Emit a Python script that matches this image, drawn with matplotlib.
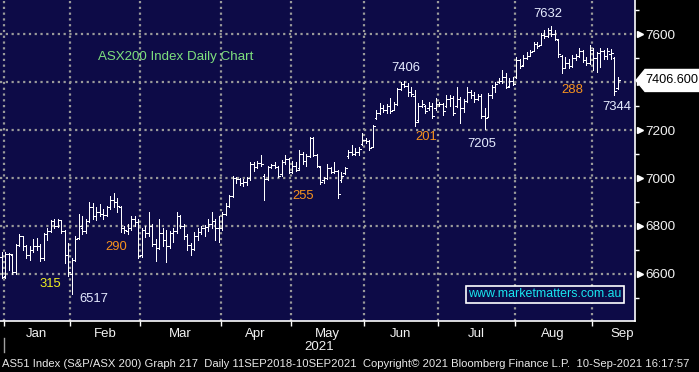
import numpy as np
import matplotlib
matplotlib.use("Agg")
import matplotlib.pyplot as plt
from matplotlib import font_manager
from matplotlib.patches import Polygon
from matplotlib.lines import Line2D

# --- daily OHLC, 31-Dec-2020 .. 10-Sep-2021 (trading-day index) ---
opens = [6670, 6590, 6685, 6680, 6607, 6720, 6757, 6716, 6680, 6700,
         6715, 6716, 6665, 6766, 6780, 6822, 6800, 6824, 6780, 6680,
         6600, 6660, 6750, 6790, 6780, 6820, 6880, 6840, 6860, 6850,
         6845, 6880, 6910, 6900, 6880, 6790, 6780, 6790, 6830, 6815,
         6680, 6785, 6770, 6800, 6725, 6710, 6770, 6740, 6715, 6770,
         6780, 6840, 6800, 6760, 6720, 6705, 6760, 6775, 6790, 6795,
         6810, 6820, 6790, 6790, 6850, 6885, 6925, 7000, 6995, 6980,
         6985, 7000, 7060, 7045, 7062, 7010, 6995, 7045, 7055, 7045,
         7015, 7065, 7080, 7025, 7050, 7040, 7100, 7070, 7090, 7165,
         7095, 7045, 6990, 7000, 7040, 7025, 7030, 6990, 7020, 7090,
         7110, 7100, 7110, 7140, 7160, 7155, 7130, 7250, 7270, 7290,
         7285, 7300, 7285, 7310, 7370, 7390, 7385, 7360, 7340, 7240,
         7300, 7300, 7290, 7300, 7290, 7310, 7310, 7300, 7330, 7335,
         7300, 7330, 7290, 7320, 7360, 7345, 7330, 7340, 7260, 7255,
         7345, 7380, 7400, 7405, 7420, 7385, 7405, 7420, 7490, 7470,
         7500, 7510, 7530, 7560, 7555, 7595, 7590, 7615, 7600, 7575,
         7510, 7460, 7480, 7465, 7500, 7510, 7530, 7490, 7480, 7534,
         7500, 7520, 7530, 7510, 7515, 7500, 7375]
highs = [6690, 6690, 6688, 6684, 6725, 6765, 6760, 6720, 6715, 6745,
         6750, 6725, 6770, 6790, 6825, 6830, 6828, 6826, 6782, 6728,
         6665, 6760, 6852, 6840, 6830, 6900, 6895, 6880, 6890, 6870,
         6885, 6925, 6936, 6915, 6885, 6800, 6810, 6840, 6840, 6830,
         6790, 6800, 6858, 6810, 6745, 6830, 6790, 6785, 6780, 6790,
         6858, 6845, 6810, 6765, 6730, 6775, 6790, 6800, 6805, 6830,
         6860, 6830, 6840, 6860, 6895, 6930, 7010, 7005, 7000, 6995,
         7005, 7068, 7065, 7070, 7096, 7015, 7050, 7060, 7068, 7048,
         7075, 7096, 7082, 7070, 7068, 7117, 7110, 7100, 7172, 7170,
         7100, 7048, 7005, 7060, 7047, 7068, 7035, 7027, 7047, 7117,
         7138, 7124, 7130, 7186, 7165, 7158, 7221, 7283, 7311, 7304,
         7310, 7332, 7318, 7375, 7401, 7406, 7395, 7380, 7366, 7311,
         7325, 7305, 7318, 7311, 7332, 7318, 7311, 7346, 7346, 7340,
         7381, 7339, 7330, 7381, 7368, 7360, 7352, 7350, 7290, 7353,
         7388, 7401, 7415, 7450, 7436, 7415, 7422, 7505, 7498, 7512,
         7526, 7533, 7568, 7568, 7603, 7617, 7625, 7632, 7617, 7578,
         7513, 7505, 7498, 7512, 7519, 7540, 7533, 7505, 7554, 7540,
         7526, 7540, 7533, 7540, 7536, 7505, 7422]
lows = [6585, 6585, 6615, 6600, 6600, 6715, 6700, 6665, 6660, 6690,
        6700, 6655, 6660, 6740, 6775, 6790, 6795, 6770, 6645, 6590,
        6517, 6655, 6745, 6765, 6770, 6815, 6830, 6825, 6840, 6830,
        6840, 6870, 6880, 6860, 6775, 6770, 6765, 6785, 6800, 6665,
        6670, 6755, 6760, 6715, 6655, 6705, 6715, 6650, 6710, 6735,
        6770, 6790, 6745, 6700, 6680, 6700, 6740, 6765, 6760, 6780,
        6790, 6740, 6735, 6785, 6845, 6880, 6920, 6980, 6970, 6965,
        6970, 6992, 7030, 7040, 7050, 6908, 6990, 7040, 7040, 7005,
        7010, 7060, 7020, 7020, 7030, 7035, 7060, 7050, 7088, 7090,
        7047, 6975, 6978, 6995, 7020, 7020, 6917, 6985, 7015, 7085,
        7095, 7095, 7095, 7137, 7148, 7117, 7128, 7248, 7268, 7276,
        7270, 7270, 7283, 7305, 7365, 7380, 7340, 7340, 7215, 7235,
        7297, 7270, 7285, 7249, 7285, 7300, 7262, 7297, 7300, 7262,
        7295, 7228, 7276, 7315, 7335, 7318, 7325, 7249, 7205, 7255,
        7332, 7360, 7394, 7394, 7374, 7380, 7388, 7415, 7457, 7468,
        7498, 7508, 7528, 7540, 7553, 7582, 7586, 7590, 7575, 7505,
        7436, 7457, 7457, 7462, 7491, 7505, 7485, 7470, 7475, 7450,
        7443, 7464, 7498, 7498, 7498, 7344, 7370]
closes = [6588, 6685, 6682, 6607, 6719, 6757, 6716, 6680, 6700, 6715,
          6716, 6665, 6766, 6780, 6822, 6800, 6824, 6780, 6680, 6607,
          6660, 6744, 6800, 6780, 6820, 6880, 6840, 6860, 6850, 6845,
          6880, 6910, 6900, 6885, 6790, 6785, 6790, 6830, 6815, 6673,
          6785, 6770, 6800, 6725, 6710, 6770, 6740, 6715, 6770, 6780,
          6840, 6800, 6760, 6720, 6705, 6760, 6775, 6790, 6795, 6810,
          6820, 6790, 6790, 6850, 6885, 6925, 7000, 6995, 6980, 6985,
          7000, 7060, 7045, 7062, 7060, 6995, 7045, 7055, 7045, 7010,
          7065, 7080, 7025, 7050, 7035, 7100, 7070, 7090, 7165, 7095,
          7050, 6985, 6998, 7040, 7025, 7030, 6935, 7010, 7040, 7110,
          7100, 7110, 7120, 7160, 7155, 7125, 7215, 7270, 7290, 7285,
          7300, 7280, 7310, 7370, 7390, 7385, 7360, 7350, 7235, 7300,
          7310, 7280, 7300, 7260, 7310, 7310, 7280, 7330, 7335, 7270,
          7330, 7290, 7320, 7360, 7345, 7330, 7340, 7260, 7250, 7345,
          7380, 7390, 7405, 7420, 7380, 7405, 7393, 7490, 7465, 7500,
          7510, 7525, 7560, 7550, 7595, 7590, 7615, 7600, 7580, 7515,
          7460, 7480, 7465, 7500, 7510, 7530, 7490, 7480, 7534, 7500,
          7520, 7530, 7510, 7530, 7520, 7362, 7406.6]

months = ["Jan", "Feb", "Mar", "Apr", "May", "Jun", "Jul", "Aug", "Sep"]
month_first = [1, 20, 40, 63, 83, 104, 125, 147, 169]
y_ticks = [6600, 6800, 7000, 7200, 7400, 7600]
y_labels = ["6600", "6800", "7000", "7200", "", "7600"]  # 7400 sits under the price box
last_price = 7406.6

# notes drawn on the chart: (text, x index, price, colour)
notes = [("7632", 155.9, 7683, "#e6ecff"), ("7406", 115.4, 7458, "#e6ecff"),
         ("7205", 137.2, 7142, "#e6ecff"), ("7344", 175.8, 7296, "#e6ecff"),
         ("6517", 26.2, 6496, "#e6ecff"), ("315", 13.8, 6558, "#f0f020"),
         ("290", 32.6, 6712, "#f7931e"), ("255", 86.1, 6925, "#f7931e"),
         ("201", 121.4, 7171, "#f7931e"), ("288", 163.1, 7367, "#f7931e")]

names = {f.name for f in font_manager.fontManager.ttflist}
if "Liberation Sans Narrow" in names:
    title_font, title_size = "Liberation Sans Narrow", 11.2
else:
    title_font, title_size = "Liberation Sans", 9.6
plt.rcParams["font.family"] = ["Liberation Sans", "DejaVu Sans"]

W, H = 699, 372
fig = plt.figure(figsize=(W / 100, H / 100), dpi=100)
fig.patch.set_facecolor("black")
ax = fig.add_axes([0, 51 / H, 635 / W, 321 / H])
ax.set_facecolor("#0d0b47")
ax.set_xlim(-0.5, 180.9)
ax.set_ylim(6404, 7742)

# grid
grid_kw = dict(color="#9a9a9a", lw=1.6, ls=(0, (1, 1.6)), zorder=1)
bounds = [m - 0.5 for m in month_first]
for b in bounds:
    ax.axvline(b, **grid_kw)
for v in y_ticks:
    ax.axhline(v, **grid_kw)

# OHLC bars
x = np.arange(len(closes))
bar_kw = dict(color="white", lw=0.72, zorder=3, antialiased=False)
ax.vlines(x, lows, highs, **bar_kw)
ax.hlines(opens, x - 0.5, x, **bar_kw)
ax.hlines(closes, x, x + 0.5, **bar_kw)

# spines
for s in ["left", "top"]:
    ax.spines[s].set_visible(False)
for s in ["right", "bottom"]:
    ax.spines[s].set_color("white")
    ax.spines[s].set_linewidth(1.2)

# x axis: month boundary ticks + centred month names
ax.set_xticks(bounds)
ax.set_xticklabels([])
ends = bounds[1:] + [185.7]
centres = [(a + b) / 2 for a, b in zip(bounds, ends)]
ax.set_xticks(centres, minor=True)
ax.set_xticklabels(months, minor=True)
ax.tick_params(axis="x", which="major", length=3.5, width=1, color="white", direction="out")
ax.tick_params(axis="x", which="minor", length=0, pad=5, labelsize=9.5, labelcolor="#f2f2f2")

# y axis on the right
ax.yaxis.tick_right()
ax.set_yticks(y_ticks)
ax.set_yticklabels(y_labels)
ax.set_yticks([v + 100 for v in [6400] + y_ticks], minor=True)
ax.tick_params(axis="y", which="major", length=0, pad=7.5, labelsize=9.7, labelcolor="#f2f2f2")
ax.tick_params(axis="y", which="minor", length=3, width=1, color="white", direction="out")
ytr = ax.get_yaxis_transform()
ax.plot([640 / 635] * len(y_ticks), y_ticks, ls="none", marker=">", ms=5,
        color="white", transform=ytr, clip_on=False, zorder=5)

# last price box
dv = 11 * (7742 - 6404) / 321
box = Polygon([(636 / 635, last_price), (645 / 635, last_price + dv), (702 / 635, last_price + dv),
               (702 / 635, last_price - dv), (645 / 635, last_price - dv)],
              closed=True, facecolor="white", edgecolor="white", transform=ytr, clip_on=False, zorder=6)
ax.add_patch(box)
ax.text(645 / 635, last_price, f"{last_price:.3f}", transform=ytr, ha="left", va="center",
        fontsize=9.2, color="black", zorder=7, clip_on=False)

# notes
ax.text(27.5, 7504, "ASX200 Index Daily Chart", color="#7ee07e", fontsize=title_size,
        family=title_font, ha="left", va="center", zorder=4)
for txt, xi, yv, col in notes:
    ax.text(xi, yv, txt, color=col, fontsize=9.4, ha="center", va="center", zorder=4)
ax.text(155.2, 6515, "www.marketmatters.com.au", color="#19e6f0", fontsize=8.9,
        ha="center", va="center", zorder=4,
        bbox=dict(boxstyle="square,pad=0.22", facecolor="#0d0b47", edgecolor="white", lw=1.2))

# bottom strip
fig.text(319 / W, 1 - 347 / H, "2021", color="#f2f2f2", fontsize=9.5, ha="center", va="center")
fig.add_artist(Line2D([4 / W, 4 / W], [1 - 338 / H, 1 - 352 / H], color="#a0a0a0", lw=1))
fig.text(2 / W, 1 - 364 / H,
         "AS51 Index (S&P/ASX 200) Graph 217  Daily 11SEP2018-10SEP2021  "
         "Copyright\u00a9 2021 Bloomberg Finance L.P.  10-Sep-2021 16:17:57",
         color="#e8e8e8", fontsize=8.1, ha="left", va="center")

fig.savefig("out.png", dpi=100, facecolor=fig.get_facecolor())
